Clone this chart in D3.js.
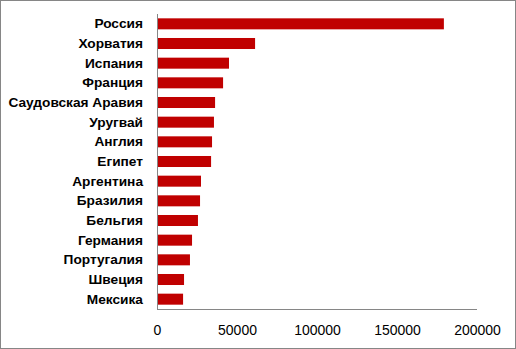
<!DOCTYPE html>
<html><head><meta charset="utf-8">
<script src="https://cdn.jsdelivr.net/npm/d3@7"></script>
<style>body{margin:0;background:#fff}svg{display:block}</style>
</head><body>
<script>
const categories = ["Россия","Хорватия","Испания","Франция","Саудовская Аравия","Уругвай","Англия","Египет","Аргентина","Бразилия","Бельгия","Германия","Португалия","Швеция","Мексика"];
const values = [179300,61300,45000,41300,36300,35600,34400,33800,27500,26900,25600,21900,20600,16900,16300];
const tickValues = [0,50000,100000,150000,200000];

const W=516,H=349;
const svg=d3.select("body").append("svg").attr("width",W).attr("height",H);
svg.append("rect").attr("x",0.5).attr("y",0.5).attr("width",W-1).attr("height",H-1).attr("fill","#fff").attr("stroke","#868686");
const x=d3.scaleLinear().domain([0,200000]).range([157,477]);
const y=d3.scaleBand().domain(categories).range([14,309]).paddingInner(0.44).paddingOuter(0.22);

svg.selectAll(".bar").data(categories).enter().append("rect")
  .attr("x",x(0)).attr("y",d=>y(d)).attr("height",y.bandwidth())
  .attr("width",(d,i)=>x(values[i])-x(0)).attr("fill","#C00000");

// y axis
const ya=svg.append("g").attr("transform",`translate(${x(0)},0)`).call(d3.axisLeft(y).tickSize(0).tickPadding(14));
ya.select(".domain").attr("stroke","#868686").attr("d","M0.5,14V309.5");
ya.selectAll("text").attr("font-family","Liberation Sans, Arial, sans-serif").attr("font-size",13.7).attr("font-weight","bold").attr("fill","#000");

// x axis
const xa=svg.append("g").attr("transform",`translate(0,309)`).call(d3.axisBottom(x).tickValues(tickValues).tickSize(0).tickPadding(16).tickFormat(d3.format("d")));
xa.select(".domain").attr("stroke","#868686").attr("d",`M${x(0)},0.5H${x(200000)}`);
xa.selectAll("text").attr("font-family","Liberation Sans, Arial, sans-serif").attr("font-size",14).attr("fill","#000");
</script>
</body></html>
